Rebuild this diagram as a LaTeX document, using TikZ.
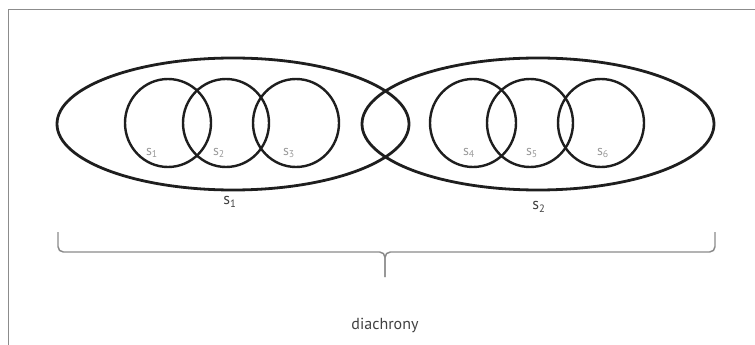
\documentclass[tikz,border=0pt]{standalone}
\usepackage{fontspec}
\setmainfont{PT Sans}
\usetikzlibrary{shapes.geometric}
\definecolor{inkdark}{HTML}{1E1E1E}
\definecolor{labelgrey}{HTML}{9A9A9A}
\definecolor{bracegrey}{HTML}{8A8A8A}

\begin{document}
\begin{tikzpicture}[
  x=0.75pt, y=-0.75pt,
  bigoval/.style={ellipse, draw=inkdark, line width=2.1pt,
                  minimum width=264pt, minimum height=99pt, inner sep=0pt},
  smalloval/.style={ellipse, draw=inkdark, line width=1.8pt,
                  minimum width=64.5pt, minimum height=66pt, inner sep=0pt},
  innerlabel/.style={font=\fontsize{10.5}{12}\selectfont, text=labelgrey, inner sep=0pt},
  outerlabel/.style={font=\fontsize{12}{14}\selectfont, text=black!75, inner sep=0pt},
  brace/.style={draw=bracegrey, line width=1.1pt, rounded corners=4pt},
]
  \useasboundingbox (0,0) rectangle (755,345);
  % frame of the figure
  \draw[black!45, line width=1pt] (8.5,345) |- (755,9.5);

  % the two large sets
  \node[bigoval] (S1) at (233,124) {};
  \node[bigoval] (S2) at (538,124) {};

  % the smaller sets inside
  \node[smalloval] (c1) at (168,123) {};
  \node[smalloval] (c2) at (226,123) {};
  \node[smalloval] (c3) at (296,123) {};
  \node[smalloval] (c4) at (473,123) {};
  \node[smalloval] (c5) at (530,123) {};
  \node[smalloval] (c6) at (601,123) {};

  \node[innerlabel] (l1) at (152,153) {s\textsubscript{1}};
  \node[innerlabel] (l2) at (219,153) {s\textsubscript{2}};
  \node[innerlabel] (l3) at (289,153) {s\textsubscript{3}};
  \node[innerlabel] (l4) at (469,153) {s\textsubscript{4}};
  \node[innerlabel] (l5) at (532,153) {s\textsubscript{5}};
  \node[innerlabel] (l6) at (603,153) {s\textsubscript{6}};

  \node[outerlabel] (L1) at (230,202) {s\textsubscript{1}};
  \node[outerlabel] (L2) at (539,207) {s\textsubscript{2}};

  % brace over the whole span
  \coordinate (bl) at (58,232);
  \coordinate (br) at (715,232);
  \coordinate (tip) at (385,277);
  \draw[brace] (bl) |- (385,252) -- (tip);
  \draw[brace] (br) |- (385,252) -- (tip);

  \node[outerlabel] (dia) at (385,325) {diachrony};
\end{tikzpicture}
\end{document}
